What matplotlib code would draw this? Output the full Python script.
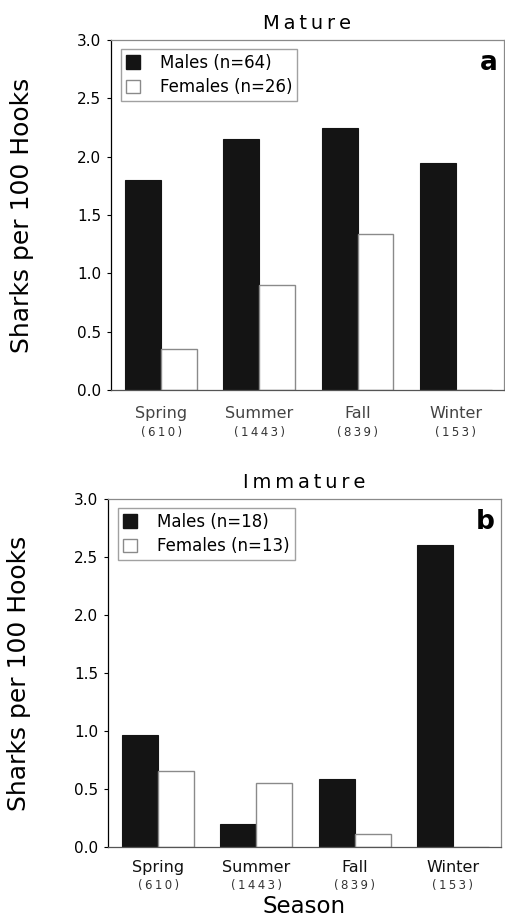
import numpy as np
import matplotlib
matplotlib.use("Agg")
import matplotlib.pyplot as plt
from matplotlib.patches import Patch

plt.rcParams['font.family'] = ['DejaVu Sans']

# data
seasons = ['Spring', 'Summer', 'Fall', 'Winter']
hooks = ['(610)', '(1443)', '(839)', '(153)']

mature_males = [1.80, 2.15, 2.25, 1.95]
mature_females = [0.35, 0.90, 1.34, 0.0]
immature_males = [0.97, 0.20, 0.59, 2.60]
immature_females = [0.655, 0.55, 0.11, 0.0]

panels = [
    ('Mature', 'a', mature_males, mature_females, 'Males (n=64)', 'Females (n=26)'),
    ('Immature', 'b', immature_males, immature_females, 'Males (n=18)', 'Females (n=13)'),
]

THIN = '\u2009'


def spaced(s):
    # the original typesetting has wide letter spacing
    return THIN.join(s)


fig = plt.figure(figsize=(5.05, 9.21), dpi=100)
axes = [fig.add_axes([0.2198, 0.5765, 0.778, 0.380]),
        fig.add_axes([0.2139, 0.0803, 0.778, 0.3779])]

x = np.arange(len(seasons))
w = 0.366
grey = '#8a8a8a'

for i, (ax, (title, letter, males, females, lm, lf)) in enumerate(zip(axes, panels)):
    ax.bar(x - w / 2, males, w, color='#141414', edgecolor='#141414', linewidth=0.8)
    ax.bar(x + w / 2, females, w, color='white', edgecolor=grey, linewidth=1.0)

    ax.set_xlim(-0.51, 3.49)
    ax.set_ylim(0, 3.0)
    ax.set_yticks(np.arange(0, 3.01, 0.5))
    ax.set_yticklabels([f'{v:.1f}' for v in np.arange(0, 3.01, 0.5)], fontsize=11)
    ax.set_xticks([])
    ax.tick_params(axis='y', length=3, width=0.8, pad=4, direction='out')

    for s in ['top', 'right']:
        ax.spines[s].set_color(grey)
        ax.spines[s].set_linewidth(0.9)
    ax.spines['left'].set_linewidth(0.9)
    ax.spines['bottom'].set_color('#555555')
    ax.spines['bottom'].set_linewidth(0.9)

    # season names and number of hooks
    lab_col = '#444444' if i == 0 else '#111111'
    lab_w = 'normal' if i == 0 else 'medium'
    off1 = -0.066 if i == 0 else -0.058
    off2 = -0.120 if i == 0 else -0.111
    for xi, s, h in zip(x, seasons, hooks):
        ax.text(xi, off1, s, transform=ax.get_xaxis_transform(), ha='center',
                va='center', fontsize=11.5, color=lab_col, fontweight=lab_w)
        ax.text(xi, off2, spaced(h), transform=ax.get_xaxis_transform(), ha='center',
                va='center', fontsize=8.5, color='#333333')

    ax.set_title(spaced(title), fontsize=14, pad=8)
    ax.set_ylabel('Sharks per 100 Hooks', fontsize=18)
    ax.yaxis.set_label_coords(-0.226, 0.5)
    ax.yaxis.label.set_va('center')
    ax.text(0.985, 0.935, letter, transform=ax.transAxes, ha='right', va='center',
            fontsize=19, fontweight='bold')

    handles = [Patch(facecolor='#141414', edgecolor='#141414'),
               Patch(facecolor='white', edgecolor=grey)]
    leg = ax.legend(handles, [lm, lf], loc='upper left', bbox_to_anchor=(0.025, 0.975),
                    fontsize=12, frameon=True, fancybox=False, handlelength=0.85,
                    handleheight=0.85, handletextpad=1.2, borderpad=0.3,
                    labelspacing=0.38, borderaxespad=0)
    leg.get_frame().set_edgecolor(grey)
    leg.get_frame().set_linewidth(1.0)

axes[1].text(0.5, -0.172, 'Season', transform=axes[1].transAxes, ha='center',
             va='center', fontsize=16.5)

fig.savefig('out.png', dpi=100)
